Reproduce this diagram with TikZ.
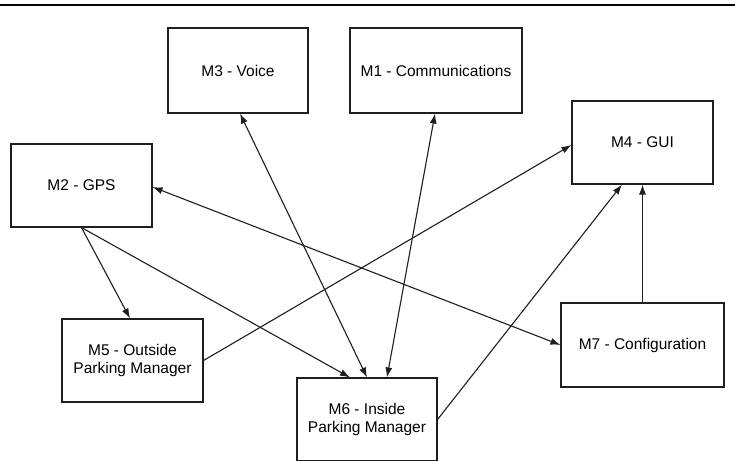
\documentclass[tikz,border=0pt]{standalone}
\usepackage{fontspec}
\setmainfont{Liberation Sans}
\usetikzlibrary{arrows.meta}
\definecolor{ink}{HTML}{1E1E1E}
\begin{document}
\begin{tikzpicture}[x=1pt,y=-1pt,
  module/.style={draw=ink,line width=1.1pt,rectangle,inner sep=0pt,
    font=\fontsize{15.5}{18}\selectfont,align=center},
  link/.style={draw=ink,line width=1.1pt,-{Latex[length=10pt,width=7pt]}},
  biLink/.style={draw=ink,line width=1.1pt,{Latex[length=10pt,width=7pt]}-{Latex[length=10pt,width=7pt]}}]
\useasboundingbox (0,0) rectangle (735,460);
\fill[white] (0,0) rectangle (735,460);
% header rule
\draw[line width=1.6pt,black] (0,5) -- (735,5);
% modules
\node[module,minimum width=140pt,minimum height=85pt] (m3) at (238,70.5) {M3 - Voice};
\node[module,minimum width=172pt,minimum height=85pt] (m1) at (436,70.5) {M1 - Communications};
\node[module,minimum width=141pt,minimum height=83pt] (m2) at (81.5,185.5) {M2 - GPS};
\node[module,minimum width=141pt,minimum height=83pt] (m4) at (642.5,142.5) {M4 - GUI};
\node[module,minimum width=163pt,minimum height=84pt] (m7) at (642.5,345) {M7 - Configuration};
\node[module,minimum width=141pt,minimum height=83pt] (m5) at (132.5,360.5) {M5 - Outside\\Parking Manager};
\node[module,minimum width=140pt,minimum height=83pt] (m6) at (367,419.5) {M6 - Inside\\Parking Manager};
% dependencies
\draw[link] (m2.south) -- ([xshift=-2.5pt]m5.north);
\draw[link] (m2.south) -- ([xshift=-17pt]m6.north);
\draw[biLink] ([xshift=2pt]m3.south) -- (m6.north);
\draw[biLink] ([xshift=-1pt]m1.south) -- ([xshift=20pt]m6.north);
\draw[biLink] ([yshift=-1.5pt]m2.east) -- (m7.west);
\draw[link] (m5.east) -- ([yshift=-2.5pt]m4.west);
\draw[link] (m6.east) -- ([xshift=-20.5pt]m4.south);
\draw[link] (m7.north) -- (m4.south);
\end{tikzpicture}
\end{document}
